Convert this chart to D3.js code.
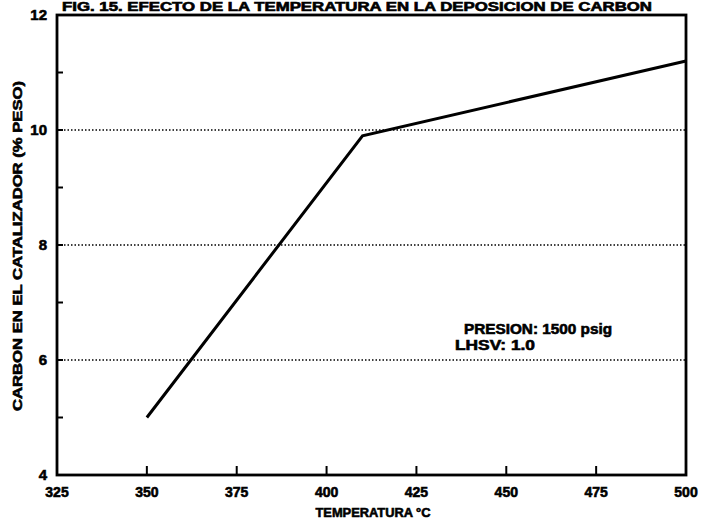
<!DOCTYPE html>
<html><head><meta charset="utf-8">
<script src="https://cdn.jsdelivr.net/npm/d3@7"></script>
<style>body{margin:0;background:#fff}svg{display:block}text{font-family:"Liberation Sans",Arial,sans-serif;font-weight:bold;fill:#000;stroke:#000;stroke-width:0.6px}</style>
</head><body><svg id="c" width="703" height="532"></svg>
<script>
const temps = [350, 410, 500];
const carbon = [5.0, 9.9, 11.2];
const xTicks = [325, 350, 375, 400, 425, 450, 475, 500];
const yTicks = [4, 6, 8, 10, 12];
const yMinor = [5, 7, 9, 11];
const gridVals = [6, 8, 10];
const title = "FIG. 15. EFECTO DE LA TEMPERATURA EN LA DEPOSICION DE CARBON";
const xLabel = "TEMPERATURA °C";
const yLabel = "CARBON EN EL CATALIZADOR (% PESO)";
const notes = ["PRESION: 1500 psig", "LHSV: 1.0"];

const svg = d3.select("#c");
const L = 57, R = 686, T = 15, B = 475;
const x = d3.scaleLinear().domain([325, 500]).range([L, R]);
const y = d3.scaleLinear().domain([4, 12]).range([B, T]);

// grid
svg.append("g").selectAll("line").data(gridVals).join("line")
  .attr("x1", L).attr("x2", R).attr("y1", d => y(d)).attr("y2", d => y(d))
  .attr("stroke", "#000").attr("stroke-width", 1.6).attr("stroke-dasharray", "1.5,2");

// frame
svg.append("rect").attr("x", L).attr("y", T).attr("width", R - L).attr("height", B - T)
  .attr("fill", "none").attr("stroke", "#000").attr("stroke-width", 2.8);

// x ticks inward
svg.append("g").selectAll("line").data(xTicks.slice(1, -1)).join("line")
  .attr("x1", d => x(d)).attr("x2", d => x(d)).attr("y1", B).attr("y2", B - 9)
  .attr("stroke", "#000").attr("stroke-width", 2);
// y ticks inward
svg.append("g").selectAll("line").data(yTicks.slice(1, -1).concat(yMinor)).join("line")
  .attr("x1", L).attr("x2", L + 6).attr("y1", d => y(d)).attr("y2", d => y(d))
  .attr("stroke", "#000").attr("stroke-width", 2);

// tick labels
svg.append("g").selectAll("text").data(xTicks).join("text")
  .attr("x", d => x(d)).attr("y", 497).attr("text-anchor", "middle")
  .attr("font-size", 14).text(d => d);
svg.append("g").selectAll("text").data(yTicks).join("text")
  .attr("x", 47).attr("y", d => y(d) + 5).attr("text-anchor", "end")
  .attr("font-size", 15).text(d => d);

// axis labels
svg.append("text").attr("x", 373).attr("y", 517).attr("text-anchor", "middle")
  .attr("font-size", 13).attr("textLength", 115).attr("lengthAdjust", "spacingAndGlyphs").text(xLabel);
svg.append("text").attr("transform", "translate(22,246) rotate(-90)").attr("text-anchor", "middle")
  .attr("font-size", 13).attr("textLength", 330).attr("lengthAdjust", "spacingAndGlyphs").text(yLabel);

// title
svg.append("text").attr("x", 357).attr("y", 11).attr("text-anchor", "middle")
  .attr("font-size", 12).attr("textLength", 590).attr("lengthAdjust", "spacingAndGlyphs").text(title);

// notes
svg.append("text").attr("x", 464).attr("y", 334).attr("font-size", 14).attr("textLength", 148).attr("lengthAdjust", "spacingAndGlyphs").text(notes[0]);
svg.append("text").attr("x", 455).attr("y", 350).attr("font-size", 14).attr("textLength", 80).attr("lengthAdjust", "spacingAndGlyphs").text(notes[1]);

// data line
const pts = temps.map((t, i) => [t, carbon[i]]);
svg.append("path").datum(pts)
  .attr("d", d3.line().x(d => x(d[0])).y(d => y(d[1])))
  .attr("fill", "none").attr("stroke", "#000").attr("stroke-width", 3);
</script></body></html>
